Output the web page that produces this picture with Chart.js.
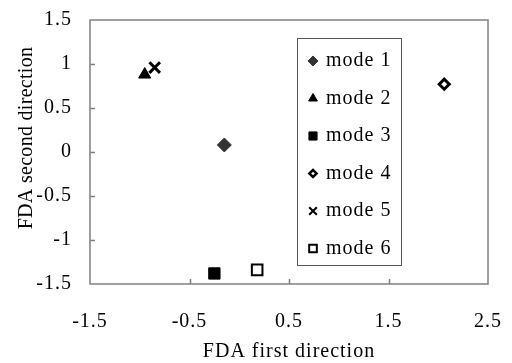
<!DOCTYPE html>
<html lang="en">
<head>
    <meta charset="UTF-8">
    <title>FDA scatter</title>
    <script src="https://cdn.jsdelivr.net/npm/chart.js"></script>
    <style>
        html, body { margin: 0; padding: 0; background: #fff; }
        #wrap { width: 512px; height: 363px; }
    </style>
</head>
<body>
    <div id="wrap"><canvas id="fdaChart"></canvas></div>
    <script>
        // values
        const modeNames = ['mode 1', 'mode 2', 'mode 3', 'mode 4', 'mode 5', 'mode 6'];
        const firstDir = [-0.15, -0.95, -0.25, 2.06, -0.85, 0.18];
        const secondDir = [0.08, 0.88, -1.38, 0.77, 0.96, -1.34];
        const xTicks = [-1.5, -0.5, 0.5, 1.5, 2.5];
        const yTicks = [-1.5, -1, -0.5, 0, 0.5, 1, 1.5];
        const xTitle = 'FDA first direction';
        const yTitle = 'FDA second direction';

        const FONT = "'Liberation Serif', 'Times New Roman', serif";

        // marker look per mode
        const markers = [
            { style: 'rectRot',  radius: 7,   fill: '#333', stroke: '#333', width: 1 },
            { style: 'triangle', radius: 7,   fill: '#000', stroke: '#000', width: 1 },
            { style: 'rect',     radius: 8,   fill: '#000', stroke: '#000', width: 1 },
            { style: 'rectRot',  radius: 5,   fill: '#fff', stroke: '#000', width: 3 },
            { style: 'crossRot', radius: 7.5, fill: '#000', stroke: '#000', width: 3 },
            { style: 'rect',     radius: 7.5, fill: '#fff', stroke: '#000', width: 2 }
        ];

        const datasets = modeNames.map((name, i) => ({
            label: name,
            data: [{ x: firstDir[i], y: secondDir[i] }],
            pointStyle: markers[i].style,
            pointRadius: markers[i].radius,
            pointHoverRadius: markers[i].radius,
            backgroundColor: markers[i].fill,
            borderColor: markers[i].stroke,
            borderWidth: markers[i].width
        }));

        function drawMarker(ctx, m, x, y, scale, lw) {
            const opts = {
                pointStyle: m.style,
                radius: m.radius * scale,
                borderWidth: lw,
                rotation: 0
            };
            ctx.save();
            ctx.fillStyle = m.fill;
            ctx.strokeStyle = m.stroke;
            ctx.lineWidth = lw;
            Chart.helpers.drawPoint(ctx, opts, x, y);
            ctx.restore();
        }

        // the old chart's text is set a little wide
        const spacingPlugin = {
            id: 'spacing',
            beforeDraw(chart) {
                chart.ctx.letterSpacing = '1px';
            }
        };

        // plot frame, inside tick marks, y title and the boxed legend
        const framePlugin = {
            id: 'frame',
            afterDatasetsDraw(chart) {
                const { ctx, chartArea: a, scales } = chart;
                ctx.save();
                ctx.strokeStyle = '#808080';
                ctx.lineWidth = 1.5;
                ctx.strokeRect(a.left, a.top, a.right - a.left, a.bottom - a.top);
                ctx.beginPath();
                xTicks.slice(1, -1).forEach(v => {
                    const px = Math.round(scales.x.getPixelForValue(v)) + 0.5;
                    ctx.moveTo(px, a.bottom);
                    ctx.lineTo(px, a.bottom - 5);
                });
                yTicks.slice(1, -1).forEach(v => {
                    const py = Math.round(scales.y.getPixelForValue(v)) + 0.5;
                    ctx.moveTo(a.left, py);
                    ctx.lineTo(a.left + 5, py);
                });
                ctx.stroke();

                ctx.font = '20px ' + FONT;
                ctx.fillStyle = '#000';

                // y title sits a bit above the middle of the plot
                ctx.save();
                ctx.letterSpacing = '0.3px';
                ctx.translate(27, (a.top + a.bottom) / 2 - 14);
                ctx.rotate(-Math.PI / 2);
                ctx.textAlign = 'center';
                ctx.textBaseline = 'middle';
                ctx.fillText(yTitle, 0, 0);
                ctx.restore();

                // legend box
                const bx = a.left + 207, by = a.top + 18, bw = 104, bh = 227;
                ctx.fillStyle = '#fff';
                ctx.fillRect(bx, by, bw, bh);
                ctx.strokeStyle = '#555';
                ctx.lineWidth = 1;
                ctx.strokeRect(bx + 0.5, by + 0.5, bw, bh);
                ctx.textBaseline = 'middle';
                ctx.textAlign = 'left';
                modeNames.forEach((name, i) => {
                    const cy = by + 23 + i * 37.5;
                    const lw = i === 4 ? 2 : (i === 3 ? 2.5 : markers[i].width);
                    drawMarker(ctx, markers[i], bx + 16, cy, 0.72, lw);
                    ctx.fillStyle = '#000';
                    ctx.fillText(name, bx + 29, cy);
                });
                ctx.restore();
            }
        };

        const ctx = document.getElementById('fdaChart').getContext('2d');
        const fdaChart = new Chart(ctx, {
            type: 'scatter',
            data: { datasets: datasets },
            options: {
                responsive: true,
                maintainAspectRatio: false,
                animation: false,
                layout: { padding: { top: 20, right: 24, left: 0, bottom: 0 } },
                plugins: {
                    legend: { display: false },
                    tooltip: { enabled: false }
                },
                scales: {
                    x: {
                        min: -1.5,
                        max: 2.5,
                        afterBuildTicks: s => { s.ticks = xTicks.map(v => ({ value: v })); },
                        afterFit: s => { s.height = 79; s.paddingLeft = 0; s.paddingRight = 0; },
                        grid: { display: false },
                        border: { display: false },
                        ticks: {
                            color: '#000',
                            padding: 18,
                            maxRotation: 0,
                            font: { family: FONT, size: 20 },
                            callback: v => String(v)
                        },
                        title: {
                            display: true,
                            text: xTitle,
                            color: '#000',
                            padding: { top: 0, bottom: -1 },
                            font: { family: FONT, size: 20 }
                        }
                    },
                    y: {
                        min: -1.5,
                        max: 1.5,
                        afterBuildTicks: s => { s.ticks = yTicks.map(v => ({ value: v })); },
                        afterFit: s => { s.width = 90; s.paddingTop = 0; s.paddingBottom = 0; },
                        grid: { display: false },
                        border: { display: false },
                        ticks: {
                            color: '#000',
                            padding: 10,
                            font: { family: FONT, size: 20 },
                            callback: v => String(v)
                        }
                    }
                }
            },
            plugins: [spacingPlugin, framePlugin]
        });
    </script>
</body>
</html>
